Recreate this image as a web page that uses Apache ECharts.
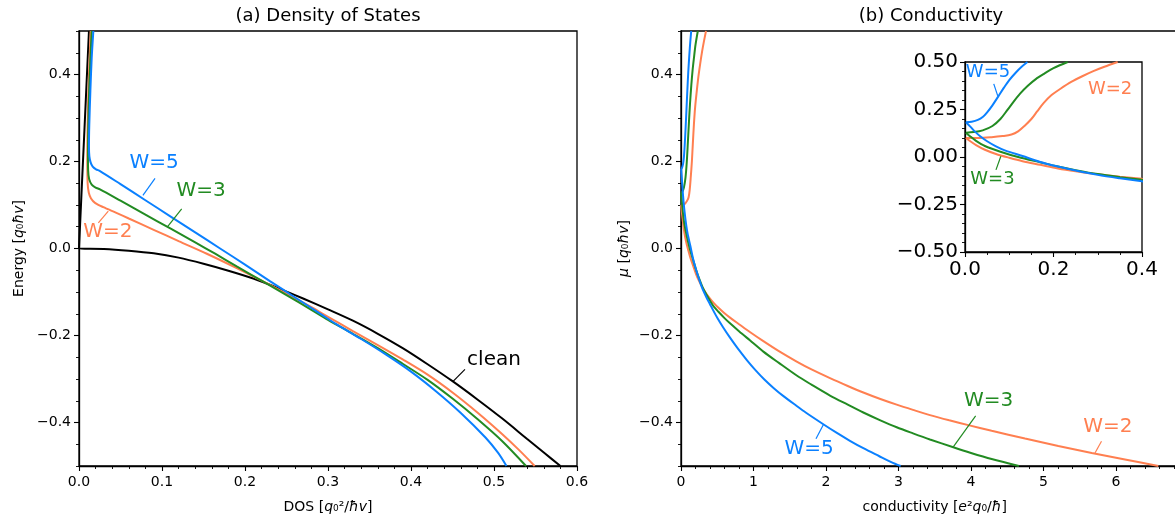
<!DOCTYPE html>
<html>
<head>
<meta charset="utf-8">
<script src="https://cdn.jsdelivr.net/npm/echarts@6/dist/echarts.min.js"></script>
<style>
  html, body { margin: 0; padding: 0; background: #fff; }
  #chart { width: 1175px; height: 516px; }
</style>
</head>
<body>
<div id="chart"></div>
<script>
// ---- (a) density of states: [DOS, energy] ----
const dosClean = [[0.012,0.5],[0.006,0.25],[0,0],[0.03,-0.001],[0.06,-0.005],[0.09,-0.011],[0.12,-0.021],
  [0.15,-0.035],[0.18,-0.051],[0.21,-0.069],[0.24,-0.091],[0.27,-0.115],[0.30,-0.140],[0.33,-0.166],
  [0.36,-0.196],[0.39,-0.229],[0.42,-0.266],[0.45,-0.305],[0.48,-0.347],[0.51,-0.391],[0.54,-0.438],
  [0.56,-0.469],[0.58,-0.5]];
const dosW2 = [[0.0141,0.5],[0.0126,0.43],[0.0113,0.36],[0.0104,0.28],[0.0100,0.21],[0.0104,0.15],
  [0.0118,0.128],[0.0145,0.115],[0.0193,0.105],[0.0293,0.095],[0.045,0.082],[0.06,0.069],[0.09,0.043],
  [0.12,0.017],[0.154,-0.012],[0.19,-0.045],[0.22,-0.074],[0.25,-0.104],[0.28,-0.135],[0.30,-0.157],
  [0.33,-0.19],[0.36,-0.222],[0.39,-0.255],[0.42,-0.290],[0.45,-0.331],[0.48,-0.377],[0.51,-0.427],
  [0.53,-0.463],[0.549,-0.5]];
const dosW3 = [[0.0153,0.5],[0.0136,0.43],[0.0122,0.36],[0.0112,0.28],[0.0108,0.21],[0.0110,0.18],
  [0.0122,0.16],[0.0153,0.147],[0.0200,0.140],[0.0253,0.136],[0.05,0.110],[0.08,0.078],[0.11,0.046],
  [0.14,0.014],[0.164,-0.012],[0.19,-0.041],[0.22,-0.074],[0.25,-0.107],[0.28,-0.141],[0.30,-0.164],
  [0.33,-0.196],[0.36,-0.229],[0.39,-0.265],[0.42,-0.302],[0.45,-0.345],[0.48,-0.392],[0.51,-0.443],
  [0.5386,-0.5]];
const dosW5 = [[0.0173,0.5],[0.0153,0.438],[0.0137,0.362],[0.0124,0.285],[0.0120,0.235],[0.0125,0.212],
  [0.0140,0.198],[0.0165,0.188],[0.0205,0.182],[0.0253,0.178],[0.05,0.148],[0.08,0.111],[0.11,0.074],
  [0.14,0.037],[0.17,0.0],[0.20,-0.037],[0.23,-0.075],[0.26,-0.112],[0.29,-0.149],[0.31,-0.174],
  [0.34,-0.208],[0.37,-0.244],[0.40,-0.283],[0.43,-0.328],[0.46,-0.378],[0.49,-0.435],[0.505,-0.47],
  [0.515,-0.5]];

// ---- (b) conductivity: [sigma, mu], upper and lower branches ----
const sigW2Upper = [[0.002,0.1],[0.03,0.1],[0.06,0.104],[0.085,0.11],[0.105,0.118],[0.12,0.135],
  [0.135,0.165],[0.15,0.2],[0.163,0.24],[0.178,0.285],[0.195,0.325],[0.215,0.358],[0.24,0.395],
  [0.265,0.425],[0.29,0.452],[0.315,0.475],[0.345,0.5]];
const sigW2Lower = [[0.002,0.1],[0.012,0.083],[0.025,0.063],[0.045,0.038],[0.07,0.016],[0.1,-0.004],
  [0.13,-0.022],[0.17,-0.041],[0.21,-0.06],[0.25,-0.075],[0.3,-0.091],[0.35,-0.104],[0.4,-0.115],
  [0.45,-0.125],[0.52,-0.137],[0.6,-0.149],[0.676,-0.159],[0.8,-0.174],[0.95,-0.192],[1.136,-0.213],
  [1.35,-0.236],[1.596,-0.26],[1.8,-0.278],[2.055,-0.298],[2.3,-0.316],[2.515,-0.331],[2.75,-0.346],
  [2.975,-0.359],[3.2,-0.371],[3.434,-0.383],[3.7,-0.395],[3.963,-0.406],[4.285,-0.419],[4.745,-0.437],
  [5.204,-0.454],[5.665,-0.47],[6.124,-0.485],[6.584,-0.5]];
const sigW3Upper = [[0.002,0.128],[0.02,0.131],[0.04,0.14],[0.062,0.163],[0.08,0.2],[0.095,0.245],
  [0.11,0.292],[0.125,0.335],[0.142,0.375],[0.16,0.41],[0.18,0.44],[0.2,0.468],[0.232,0.5]];
const sigW3Lower = [[0.002,0.128],[0.012,0.108],[0.025,0.085],[0.045,0.058],[0.08,0.028],[0.12,0.0],
  [0.17,-0.028],[0.21,-0.05],[0.25,-0.069],[0.3,-0.09],[0.35,-0.106],[0.4,-0.12],[0.45,-0.133],
  [0.52,-0.146],[0.6,-0.16],[0.676,-0.172],[0.8,-0.19],[0.95,-0.211],[1.136,-0.237],[1.35,-0.263],
  [1.596,-0.292],[1.8,-0.313],[2.055,-0.338],[2.3,-0.359],[2.515,-0.377],[2.75,-0.395],[2.975,-0.411],
  [3.2,-0.425],[3.434,-0.439],[3.756,-0.457],[4.0,-0.47],[4.285,-0.484],[4.66,-0.5]];
const sigW5Upper = [[0.002,0.183],[0.015,0.186],[0.029,0.195],[0.040,0.21],[0.05,0.235],[0.062,0.272],
  [0.075,0.318],[0.088,0.365],[0.1,0.405],[0.115,0.445],[0.128,0.475],[0.141,0.5]];
const sigW5Lower = [[0.002,0.183],[0.012,0.16],[0.022,0.135],[0.035,0.108],[0.05,0.083],[0.07,0.056],
  [0.09,0.035],[0.13,0.005],[0.17,-0.026],[0.21,-0.05],[0.25,-0.071],[0.3,-0.094],[0.35,-0.112],
  [0.4,-0.128],[0.45,-0.144],[0.506,-0.161],[0.58,-0.181],[0.676,-0.205],[0.78,-0.229],[0.911,-0.257],
  [1.03,-0.28],[1.15,-0.301],[1.28,-0.321],[1.418,-0.34],[1.596,-0.362],[1.72,-0.377],[1.963,-0.404],
  [2.15,-0.424],[2.33,-0.442],[2.515,-0.459],[2.73,-0.477],[2.9,-0.491],[3.03,-0.5]];

// tick labels
const energyTicks = [-0.4, -0.2, 0, 0.2, 0.4];

const FONT = 'DejaVu Sans';
const C = { w2: '#ff7f50', w3: '#228b22', w5: '#0a80ff', clean: '#000000' };
const signed = (v, d) => (v < 0 ? '\u2212' : '') + Math.abs(v).toFixed(d);
const italic = { i: { fontStyle: 'italic', fontFamily: FONT, fontSize: 14, color: '#000' } };

function xAxisOf(grid, min, max, step, minorSplit, fmt, name, opts) {
  opts = opts || {};
  return {
    type: 'value', gridIndex: grid, min, max, interval: step,
    axisLine: { show: true, onZero: false, lineStyle: { color: '#000', width: 1.3 } },
    axisTick: { show: true, length: 5, lineStyle: { color: '#000', width: 1.1 } },
    minorTick: { show: true, splitNumber: minorSplit, length: 3, lineStyle: { color: '#000', width: 0.9 } },
    axisLabel: { color: '#000', fontFamily: FONT, fontSize: opts.fontSize || 14, margin: opts.margin || 9,
      formatter: fmt, showMaxLabel: opts.showMax !== false },
    splitLine: { show: false }, minorSplitLine: { show: false },
    name: name || '', nameLocation: 'middle', nameGap: opts.nameGap || 34,
    nameTextStyle: { color: '#000', fontFamily: FONT, fontSize: 14, rich: italic }
  };
}

function energyAxes(grid, name, nameGap) {
  return [{
    type: 'value', gridIndex: grid, position: 'left', min: -0.5, max: 0.5, interval: 0.05,
    axisLine: { show: true, onZero: false, lineStyle: { color: '#000', width: 1.3 } },
    axisTick: { show: true, length: 3, lineStyle: { color: '#000', width: 0.9 } },
    axisLabel: { color: '#000', fontFamily: FONT, fontSize: 14, margin: 8,
      customValues: energyTicks, formatter: v => signed(v, 1) },
    splitLine: { show: false },
    name, nameLocation: 'middle', nameGap,
    nameTextStyle: { color: '#000', fontFamily: FONT, fontSize: 14, rich: italic }
  }, {
    type: 'value', gridIndex: grid, position: 'left', min: -0.5, max: 0.5, interval: 0.05,
    axisLine: { show: false },
    axisTick: { show: true, length: 5, customValues: energyTicks, lineStyle: { color: '#000', width: 1.1 } },
    axisLabel: { show: false }, splitLine: { show: false }
  }];
}

const yAxes = [].concat(
  energyAxes(0, 'Energy [{i|q}\u2080{i|\u0127v}]', 53),
  energyAxes(1, '{i|\u03bc} [{i|q}\u2080{i|\u0127v}]', 50),
  [{
    type: 'value', gridIndex: 2, position: 'left', min: -0.5, max: 0.5, interval: 0.25,
    axisLine: { show: true, onZero: false, lineStyle: { color: '#000', width: 1.3 } },
    axisTick: { show: true, length: 5, lineStyle: { color: '#000', width: 1.1 } },
    minorTick: { show: true, splitNumber: 5, length: 3, lineStyle: { color: '#000', width: 0.9 } },
    axisLabel: { color: '#000', fontFamily: FONT, fontSize: 20, margin: 7, formatter: v => signed(v, 2) },
    splitLine: { show: false }, minorSplitLine: { show: false }
  }]
);

const xAxes = [
  xAxisOf(0, 0, 0.6, 0.1, 5, v => v.toFixed(1), 'DOS [{i|q}\u2080\u00b2/{i|\u0127v}]'),
  xAxisOf(1, 0, 7, 1, 5, v => String(v), 'conductivity [{i|e}\u00b2{i|q}\u2080/{i|\u0127}]', { showMax: false }),
  xAxisOf(2, 0, 0.4, 0.2, 4, v => v.toFixed(1), '', { fontSize: 20, margin: 8 })
];

function curve(data, color, xi, yi) {
  return { type: 'line', xAxisIndex: xi, yAxisIndex: yi, data, symbol: 'none', showSymbol: false,
    smooth: 0.3, lineStyle: { color, width: 2, opacity: 1 }, silent: true, z: 3 };
}
function leader(data, color, xi, yi) {
  return { type: 'line', xAxisIndex: xi, yAxisIndex: yi, data, symbol: 'none', showSymbol: false,
    lineStyle: { color, width: 1.2, opacity: 1 }, silent: true, z: 4 };
}
function tag(text, at, color, xi, yi, size) {
  return { type: 'scatter', xAxisIndex: xi, yAxisIndex: yi, data: [at], symbolSize: 1,
    itemStyle: { color: 'rgba(255,255,255,0)', opacity: 1 }, silent: true, z: 5,
    label: { show: true, position: 'inside', formatter: text, color, opacity: 1, textBorderWidth: 0,
      fontFamily: FONT, fontSize: size } };
}

const series = [
  // (a)
  curve(dosClean, C.clean, 0, 0),
  curve(dosW2, C.w2, 0, 0),
  curve(dosW3, C.w3, 0, 0),
  curve(dosW5, C.w5, 0, 0),
  leader([[0.077,0.122],[0.0916,0.161]], C.w5, 0, 0),
  leader([[0.107,0.051],[0.1237,0.0913]], C.w3, 0, 0),
  leader([[0.0353,0.0857],[0.0233,0.059]], C.w2, 0, 0),
  leader([[0.451,-0.305],[0.465,-0.278]], C.clean, 0, 0),
  tag('W=5', [0.0904,0.198], C.w5, 0, 0, 20),
  tag('W=3', [0.147,0.133], C.w3, 0, 0, 20),
  tag('W=2', [0.0349,0.039], C.w2, 0, 0, 20),
  tag('clean', [0.5,-0.255], C.clean, 0, 0, 20),
  // (b) main
  curve(sigW2Upper, C.w2, 1, 2), curve(sigW2Lower, C.w2, 1, 2),
  curve(sigW3Upper, C.w3, 1, 2), curve(sigW3Lower, C.w3, 1, 2),
  curve(sigW5Upper, C.w5, 1, 2), curve(sigW5Lower, C.w5, 1, 2),
  leader([[1.963,-0.405],[1.862,-0.4375]], C.w5, 1, 2),
  leader([[3.756,-0.456],[4.064,-0.385]], C.w3, 1, 2),
  leader([[5.71,-0.47],[5.80,-0.443]], C.w2, 1, 2),
  tag('W=5', [1.766,-0.46], C.w5, 1, 2, 20),
  tag('W=3', [4.244,-0.349], C.w3, 1, 2, 20),
  tag('W=2', [5.887,-0.41], C.w2, 1, 2, 20),
  // (b) inset
  curve(sigW2Upper, C.w2, 2, 4), curve(sigW2Lower, C.w2, 2, 4),
  curve(sigW3Upper, C.w3, 2, 4), curve(sigW3Lower, C.w3, 2, 4),
  curve(sigW5Upper, C.w5, 2, 4), curve(sigW5Lower, C.w5, 2, 4),
  leader([[0.074,0.322],[0.065,0.385]], C.w5, 2, 4),
  leader([[0.081,0.004],[0.070,-0.068]], C.w3, 2, 4),
  tag('W=5', [0.052,0.444], C.w5, 2, 4, 18),
  tag('W=3', [0.062,-0.115], C.w3, 2, 4, 18),
  tag('W=2', [0.328,0.357], C.w2, 2, 4, 18)
];

const frame = { show: true, borderColor: '#000', borderWidth: 1.3, containLabel: false, outerBoundsMode: 'none' };

const chart = echarts.init(document.getElementById('chart'), null, { renderer: 'canvas' });
chart.setOption({
  animation: false,
  backgroundColor: '#fff',
  grid: [
    Object.assign({ left: 79, top: 31, width: 498, height: 435 }, frame),
    Object.assign({ left: 681, top: 31, width: 507.5, height: 435 }, frame),
    Object.assign({ left: 965, top: 62, width: 177, height: 190 }, frame)
  ],
  xAxis: xAxes,
  yAxis: yAxes,
  series,
  graphic: [
    { type: 'text', x: 328, y: 16, silent: true,
      style: { text: '(a) Density of States', fill: '#000', fontFamily: FONT, fontSize: 18, align: 'center', verticalAlign: 'middle' } },
    { type: 'text', x: 931, y: 16, silent: true,
      style: { text: '(b) Conductivity', fill: '#000', fontFamily: FONT, fontSize: 18, align: 'center', verticalAlign: 'middle' } }
  ]
});
</script>
</body>
</html>
